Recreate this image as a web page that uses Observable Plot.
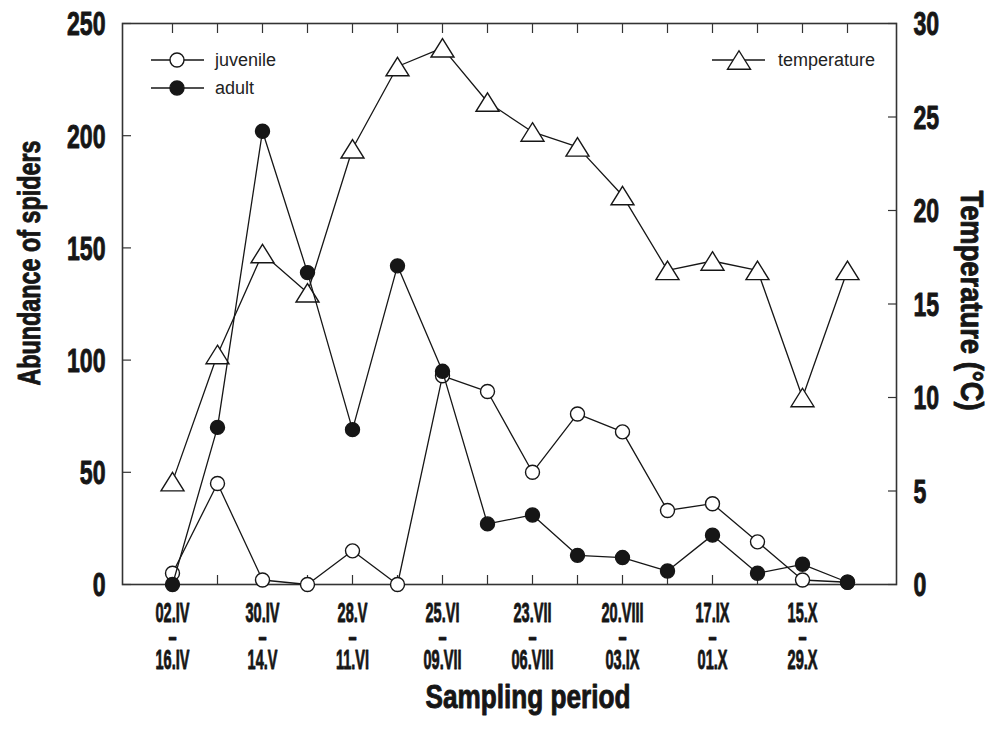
<!DOCTYPE html>
<html><head><meta charset="utf-8">
<script src="https://cdn.jsdelivr.net/npm/d3@7"></script>
<script src="https://cdn.jsdelivr.net/npm/@observablehq/plot@0.6"></script>
<style>
body{margin:0;background:#fff;}
#wrap{position:relative;width:999px;height:729px;}
#legend{position:absolute;left:0;top:0;pointer-events:none;}
</style></head><body><div id="wrap"></div>
<script>
// Start date of each two-week sampling period
const periodStart = ["02.IV","16.IV","30.IV","14.V","28.V","11.VI","25.VI","09.VII","23.VII","06.VIII","20.VIII","03.IX","17.IX","01.X","15.X","29.X"];
const periodEnd   = ["16.IV","30.IV","14.V","28.V","11.VI","25.VI","09.VII","23.VII","06.VIII","20.VIII","03.IX","17.IX","01.X","15.X","29.X","12.XI"];
const labelledPeriods = ["02.IV","30.IV","28.V","25.VI","23.VII","20.VIII","17.IX","15.X"];
const juvenile    = [5, 45, 2, 0, 15, 0, 93, 86, 50, 76, 68, 33, 36, 19, 2, 1];
const adult       = [0, 70, 202, 139, 69, 142, 95, 27, 31, 13, 12, 6, 22, 5, 9, 1];
const temperature = [5.5, 12.3, 17.7, 15.6, 23.3, 27.7, 28.7, 25.8, 24.2, 23.4, 20.8, 16.8, 17.3, 16.8, 10.0, 16.8];
const abundanceTicks = [0, 50, 100, 150, 200, 250];
const temperatureTicks = [0, 5, 10, 15, 20, 25, 30];
const titleLeft = "Abundance of spiders";
const titleRight = "Temperature (°C)";
const titleBottom = "Sampling period";

const abundanceMax = 250, temperatureMax = 30;
const toY = t => t * abundanceMax / temperatureMax;

const rows = periodStart.map((p, i) => ({period: p, juv: juvenile[i], adu: adult[i], temp: toY(temperature[i])}));

const FONT = '"Liberation Sans",Arial,Helvetica,sans-serif';
const INK = "#161616";

const tri = {draw(ctx) { const w = 23, h = 18.5; ctx.moveTo(0, -h/2); ctx.lineTo(w/2, h/2); ctx.lineTo(-w/2, h/2); ctx.closePath(); }};

const chart = Plot.plot({
  width: 999, height: 729,
  marginLeft: 122, marginRight: 103, marginTop: 23, marginBottom: 145,
  style: {fontFamily: FONT, fontWeight: "bold", color: INK, background: "white"},
  x: {type: "point", domain: periodStart, padding: 0.96, axis: null},
  y: {domain: [0, abundanceMax], axis: null},
  marks: [
    Plot.frame({stroke: "#333", strokeWidth: 1.6}),
    // inward ticks
    Plot.axisY(abundanceTicks, {anchor: "left", tickSize: -9, fill: "none", label: null, stroke: "#333", strokeWidth: 1.2}),
    Plot.axisY(temperatureTicks.map(toY), {anchor: "right", tickSize: -9, fill: "none", label: null, stroke: "#333", strokeWidth: 1.2}),
    Plot.axisX({anchor: "bottom", tickSize: -9, fill: "none", label: null, stroke: "#333", strokeWidth: 1.2}),
    Plot.axisX({anchor: "top", tickSize: -9, fill: "none", label: null, stroke: "#333", strokeWidth: 1.2}),
    // tick labels
    Plot.axisY(abundanceTicks, {anchor: "left", tickSize: 0, tickPadding: 17, dy: 1, fontSize: 34, label: null}),
    Plot.axisY(temperatureTicks.map(toY), {anchor: "right", tickSize: 0, tickPadding: 17, dy: 1, fontSize: 34, label: null,
      tickFormat: v => String(Math.round(v * temperatureMax / abundanceMax))}),
    Plot.text(labelledPeriods, {x: d => d, frameAnchor: "bottom", dy: 21, lineAnchor: "top", lineHeight: 0.84, fontSize: 28,
      text: d => d + "\n–\n" + periodEnd[periodStart.indexOf(d)]}),
    // axis titles
    Plot.text([titleLeft], {text: d => d, frameAnchor: "left", textAnchor: "start", dx: -93, dy: 81.5, rotate: -90, fontSize: 32}),
    Plot.text([titleRight], {text: d => d, frameAnchor: "right", textAnchor: "start", dx: 75, dy: -113.5, rotate: 90, fontSize: 32}),
    Plot.text([titleBottom], {text: d => d, frameAnchor: "bottom", textAnchor: "start", dx: -84, dy: 123, fontSize: 33}),
    // series
    Plot.line(rows, {x: "period", y: "temp", stroke: INK, strokeWidth: 1.3}),
    Plot.dot(rows, {x: "period", y: "temp", symbol: tri, r: 8, fill: "white", stroke: INK, strokeWidth: 1.4}),
    Plot.line(rows, {x: "period", y: "juv", stroke: INK, strokeWidth: 1.3}),
    Plot.dot(rows, {x: "period", y: "juv", r: 7, fill: "white", stroke: INK, strokeWidth: 1.4}),
    Plot.line(rows, {x: "period", y: "adu", stroke: INK, strokeWidth: 1.3}),
    Plot.dot(rows, {x: "period", y: "adu", r: 7, fill: INK, stroke: INK, strokeWidth: 1.4})
  ]
});

// condensed, heavy look of the original typeface
const titleLengths = {[titleLeft]: 245, [titleRight]: 220, [titleBottom]: 205};
chart.querySelectorAll("text").forEach(t => {
  const s = t.textContent;
  t.setAttribute("stroke", INK);
  t.setAttribute("stroke-width", "0.9");
  t.setAttribute("stroke-linejoin", "round");
  if (titleLengths[s]) {
    t.setAttribute("textLength", titleLengths[s]);
    t.setAttribute("lengthAdjust", "spacingAndGlyphs");
  } else {
    const sx = t.querySelector("tspan") ? 0.52 : 0.68;
    t.setAttribute("transform", (t.getAttribute("transform") || "") + ` scale(${sx},1)`);
  }
});

const wrap = document.getElementById("wrap");
wrap.appendChild(chart);

// legend overlay
const legendItems = [
  {label: "juvenile", kind: "open", x: 151, y: 60},
  {label: "adult", kind: "filled", x: 151, y: 88},
  {label: "temperature", kind: "triangle", x: 712, y: 60}
];
const lg = d3.create("svg").attr("id", "legend").attr("width", 999).attr("height", 729);
for (const it of legendItems) {
  const g = lg.append("g").attr("transform", `translate(${it.x},${it.y})`);
  g.append("line").attr("x1", 0).attr("x2", 53).attr("stroke", INK).attr("stroke-width", 1.3);
  if (it.kind === "triangle") {
    g.append("path").attr("transform", "translate(27,0)").attr("d", "M0,-9.25L11.5,9.25L-11.5,9.25Z").attr("fill", "white").attr("stroke", INK).attr("stroke-width", 1.4);
  } else {
    g.append("circle").attr("cx", 26).attr("r", 7).attr("fill", it.kind === "open" ? "white" : INK).attr("stroke", INK).attr("stroke-width", 1.4);
  }
  g.append("text").attr("x", it.kind === "triangle" ? 66 : 64).attr("y", 0).attr("dy", "0.35em")
    .attr("font-family", '"Liberation Sans",Arial,sans-serif').attr("font-size", 18).attr("fill", "#222").text(it.label);
}
wrap.appendChild(lg.node());
</script></body></html>
